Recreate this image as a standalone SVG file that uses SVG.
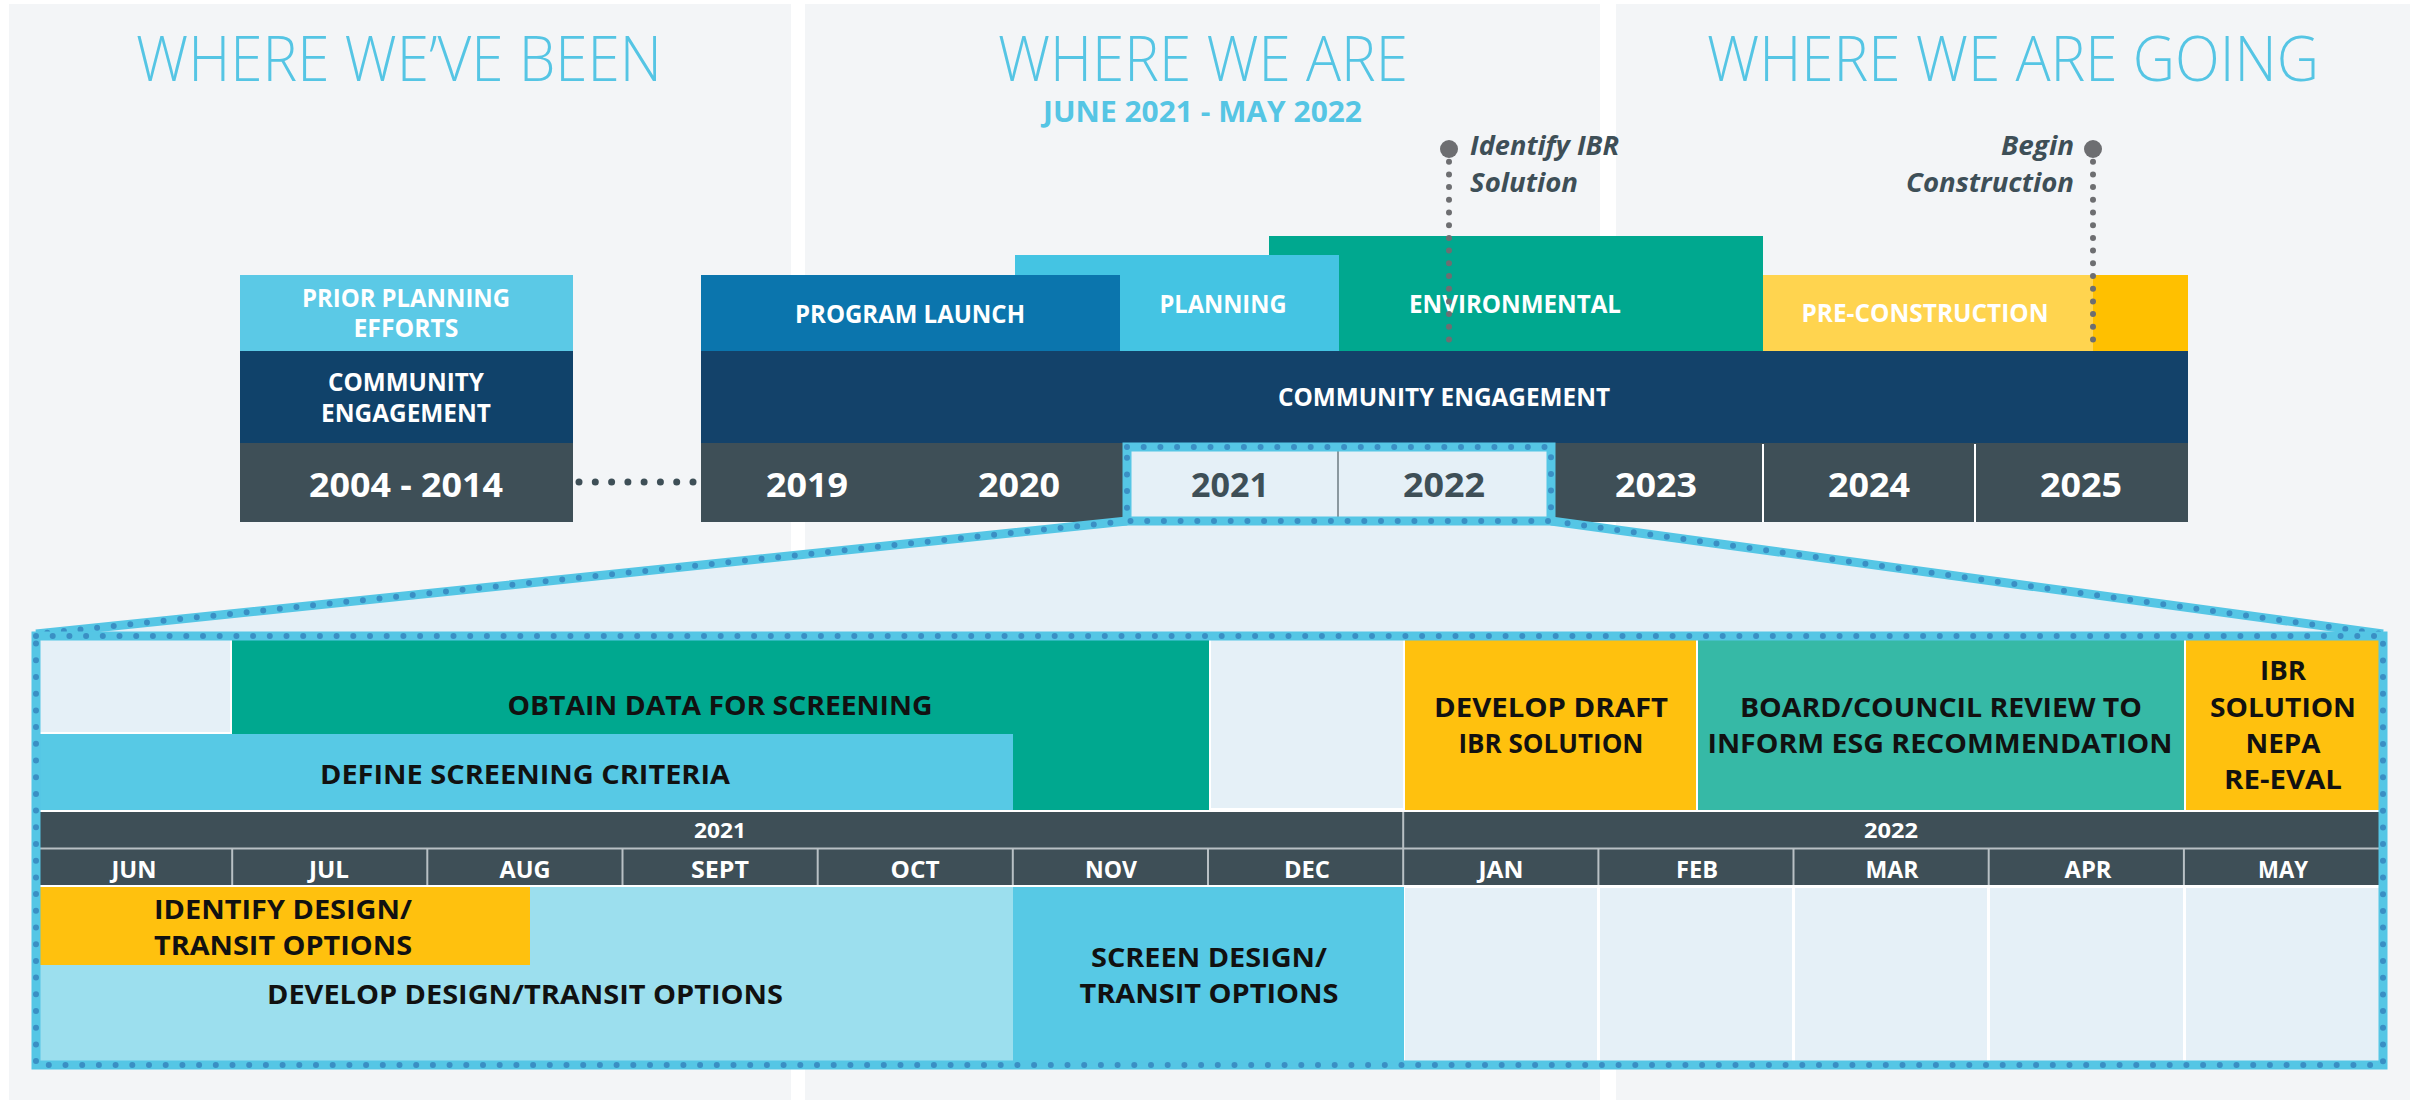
<svg xmlns="http://www.w3.org/2000/svg" width="2417" height="1104" viewBox="0 0 2417 1104">
<defs>
<style>
.panel{fill:#f3f5f7}
.title{font-family:"Open Sans","Lato","Liberation Sans",sans-serif;font-weight:300;fill:#55c5e4;font-size:62px;text-anchor:middle}
.b{font-family:"Open Sans","Liberation Sans",Arial,sans-serif;font-weight:700;text-anchor:middle}
.w{fill:#ffffff}
.k{fill:#111111}
.g{fill:#3e4f57}
.lbl{font-size:24.5px}
.yr{font-size:34px}
.act{font-size:26px}
.mon{font-size:24px}
.it{font-family:"Open Sans","Liberation Sans",Arial,sans-serif;font-weight:700;font-style:italic;font-size:27px;fill:#3e4f57}
.light{fill:#e5f0f7}
.band{fill:none;stroke:#55c6e5;stroke-width:9}
.dots{fill:none;stroke:#3a8fc4;stroke-width:6;stroke-linecap:round;stroke-dasharray:0 16.7}
.mk{fill:none;stroke:#6d6e71;stroke-width:6;stroke-linecap:round;stroke-dasharray:0 12.7}
.grid{stroke:#b8c0c4;stroke-width:2}
</style>
</defs>

<g id="panels">
<rect class="panel" x="9" y="4" width="782" height="1096"/>
<rect class="panel" x="805" y="4" width="795" height="1096"/>
<rect class="panel" x="1616" y="4" width="794" height="1096"/>
</g>

<g id="titles">
<text class="title" x="399" y="81" textLength="526" lengthAdjust="spacingAndGlyphs">WHERE WE’VE BEEN</text>
<text class="title" x="1203" y="81" textLength="410" lengthAdjust="spacingAndGlyphs">WHERE WE ARE</text>
<text class="b" x="1202.5" y="122" font-size="29" fill="#55c5e4" textLength="319" lengthAdjust="spacingAndGlyphs">JUNE 2021 - MAY 2022</text>
<text class="title" x="2013" y="81" textLength="612" lengthAdjust="spacingAndGlyphs">WHERE WE ARE GOING</text>
</g>

<!-- Left column -->
<g id="prior-planning">
<rect x="240" y="275" width="333" height="76" fill="#5bc9e6"/>
<text class="b w lbl" x="406" y="307" textLength="208" lengthAdjust="spacingAndGlyphs">PRIOR PLANNING</text>
<text class="b w lbl" x="406" y="337" textLength="105" lengthAdjust="spacingAndGlyphs">EFFORTS</text>
</g>
<g id="community-engagement-past">
<rect x="240" y="351" width="333" height="92" fill="#10426a"/>
<text class="b w lbl" x="406" y="391" textLength="156" lengthAdjust="spacingAndGlyphs">COMMUNITY</text>
<text class="b w lbl" x="406" y="422" textLength="170" lengthAdjust="spacingAndGlyphs">ENGAGEMENT</text>
</g>
<g id="years-2004-2014">
<rect x="240" y="443" width="333" height="79" fill="#3e4f57"/>
<text class="b w yr" x="406" y="497" textLength="194" lengthAdjust="spacingAndGlyphs">2004 - 2014</text>
</g>

<!-- Main top chart -->
<g id="environmental">
<rect x="1269" y="236" width="494" height="115" fill="#00a88f"/>
</g>
<g id="planning">
<rect x="1015" y="255" width="324" height="96" fill="#44c4e3"/>
</g>
<g id="program-launch">
<rect x="701" y="275" width="419" height="76" fill="#0b75ad"/>
<text class="b w lbl" x="910" y="323" textLength="230" lengthAdjust="spacingAndGlyphs">PROGRAM LAUNCH</text>
</g>
<text class="b w lbl" x="1223" y="313" textLength="127" lengthAdjust="spacingAndGlyphs">PLANNING</text>
<text class="b w lbl" x="1515" y="313" textLength="212" lengthAdjust="spacingAndGlyphs">ENVIRONMENTAL</text>
<g id="pre-construction">
<rect x="1763" y="275" width="425" height="76" fill="#ffd44f"/>
<rect x="2093" y="275" width="95" height="76" fill="#ffc000"/>
<text class="b w lbl" x="1925" y="322" textLength="247" lengthAdjust="spacingAndGlyphs">PRE-CONSTRUCTION</text>
</g>
<g id="community-engagement">
<rect x="701" y="351" width="1487" height="92" fill="#13426a"/>
<text class="b w lbl" x="1444" y="406" textLength="332" lengthAdjust="spacingAndGlyphs">COMMUNITY ENGAGEMENT</text>
</g>
<g id="year-row">
<rect x="701" y="443" width="1487" height="79" fill="#3e4f57"/>
<line x1="1763" y1="444" x2="1763" y2="522" stroke="#ffffff" stroke-width="2"/>
<line x1="1975" y1="444" x2="1975" y2="522" stroke="#ffffff" stroke-width="2"/>
<text class="b w yr" x="807" y="497" textLength="82" lengthAdjust="spacingAndGlyphs">2019</text>
<text class="b w yr" x="1019" y="497" textLength="82" lengthAdjust="spacingAndGlyphs">2020</text>
<text class="b w yr" x="1656" y="497" textLength="82" lengthAdjust="spacingAndGlyphs">2023</text>
<text class="b w yr" x="1869" y="497" textLength="82" lengthAdjust="spacingAndGlyphs">2024</text>
<text class="b w yr" x="2081" y="497" textLength="82" lengthAdjust="spacingAndGlyphs">2025</text>
</g>

<!-- Lower zoomed section -->
<g id="zoom-area">
<polygon class="light" points="1127,521 1551,521 2383,636 36,636"/>
<rect x="40" y="640" width="2339" height="421" fill="#ffffff"/>
</g>

<g id="highlight-2021-2022">
<rect class="light" x="1127" y="447" width="424" height="74"/>
<line x1="1338" y1="451" x2="1338" y2="517" stroke="#6d7b82" stroke-width="1.5"/>
<text class="b g yr" x="1230" y="497" textLength="78" lengthAdjust="spacingAndGlyphs">2021</text>
<text class="b g yr" x="1444" y="497" textLength="82" lengthAdjust="spacingAndGlyphs">2022</text>
</g>

<g id="obtain-data">
<rect x="232" y="640" width="977" height="170" fill="#00a88f"/>
<text class="b k act" x="720" y="715" textLength="425" lengthAdjust="spacingAndGlyphs">OBTAIN DATA FOR SCREENING</text>
</g>
<g id="jun-empty"><rect class="light" x="40" y="640" width="190" height="92"/></g>
<g id="define-criteria">
<rect x="40" y="734" width="973" height="76" fill="#57c9e5"/>
<text class="b k act" x="525" y="784" textLength="410" lengthAdjust="spacingAndGlyphs">DEFINE SCREENING CRITERIA</text>
</g>
<g id="dec-empty"><rect class="light" x="1211" y="640" width="192" height="168"/></g>
<g id="develop-draft">
<rect x="1405" y="640" width="291" height="170" fill="#ffc10e"/>
<text class="b k act" x="1551" y="717" textLength="234" lengthAdjust="spacingAndGlyphs">DEVELOP DRAFT</text>
<text class="b k act" x="1551" y="753" textLength="185" lengthAdjust="spacingAndGlyphs">IBR SOLUTION</text>
</g>
<g id="board-review">
<rect x="1698" y="640" width="486" height="170" fill="#36b9a6"/>
<text class="b k act" x="1941" y="717" textLength="402" lengthAdjust="spacingAndGlyphs">BOARD/COUNCIL REVIEW TO</text>
<text class="b k act" x="1940" y="753" textLength="465" lengthAdjust="spacingAndGlyphs">INFORM ESG RECOMMENDATION</text>
</g>
<g id="ibr-nepa">
<rect x="2186" y="640" width="193" height="170" fill="#ffc10e"/>
<text class="b k act" x="2283" y="680" textLength="46" lengthAdjust="spacingAndGlyphs">IBR</text>
<text class="b k act" x="2283" y="717" textLength="146" lengthAdjust="spacingAndGlyphs">SOLUTION</text>
<text class="b k act" x="2283" y="753" textLength="75" lengthAdjust="spacingAndGlyphs">NEPA</text>
<text class="b k act" x="2283" y="789" textLength="118" lengthAdjust="spacingAndGlyphs">RE-EVAL</text>
</g>

<g id="month-header">
<rect x="40" y="812" width="2339" height="73" fill="#3e4f57"/>
<line class="grid" x1="40" y1="848.5" x2="2379" y2="848.5"/>
<line class="grid" x1="1403.2" y1="812" x2="1403.2" y2="885"/>
<g class="grid">
<line x1="232.2" y1="849" x2="232.2" y2="885"/>
<line x1="427.3" y1="849" x2="427.3" y2="885"/>
<line x1="622.5" y1="849" x2="622.5" y2="885"/>
<line x1="817.7" y1="849" x2="817.7" y2="885"/>
<line x1="1012.8" y1="849" x2="1012.8" y2="885"/>
<line x1="1208" y1="849" x2="1208" y2="885"/>
<line x1="1598.4" y1="849" x2="1598.4" y2="885"/>
<line x1="1793.5" y1="849" x2="1793.5" y2="885"/>
<line x1="1988.7" y1="849" x2="1988.7" y2="885"/>
<line x1="2183.9" y1="849" x2="2183.9" y2="885"/>
</g>
<text class="b w" font-size="22" x="720" y="838" textLength="52" lengthAdjust="spacingAndGlyphs">2021</text>
<text class="b w" font-size="22" x="1891" y="838" textLength="54" lengthAdjust="spacingAndGlyphs">2022</text>
<text class="b w mon" x="134" y="878" textLength="45" lengthAdjust="spacingAndGlyphs">JUN</text>
<text class="b w mon" x="329" y="878" textLength="40" lengthAdjust="spacingAndGlyphs">JUL</text>
<text class="b w mon" x="525" y="878" textLength="51" lengthAdjust="spacingAndGlyphs">AUG</text>
<text class="b w mon" x="720" y="878" textLength="58" lengthAdjust="spacingAndGlyphs">SEPT</text>
<text class="b w mon" x="915" y="878" textLength="49" lengthAdjust="spacingAndGlyphs">OCT</text>
<text class="b w mon" x="1111" y="878" textLength="52" lengthAdjust="spacingAndGlyphs">NOV</text>
<text class="b w mon" x="1307" y="878" textLength="46" lengthAdjust="spacingAndGlyphs">DEC</text>
<text class="b w mon" x="1501" y="878" textLength="45" lengthAdjust="spacingAndGlyphs">JAN</text>
<text class="b w mon" x="1697" y="878" textLength="42" lengthAdjust="spacingAndGlyphs">FEB</text>
<text class="b w mon" x="1892" y="878" textLength="53" lengthAdjust="spacingAndGlyphs">MAR</text>
<text class="b w mon" x="2088" y="878" textLength="47" lengthAdjust="spacingAndGlyphs">APR</text>
<text class="b w mon" x="2283" y="878" textLength="50" lengthAdjust="spacingAndGlyphs">MAY</text>
</g>

<g id="develop-design">
<rect x="40" y="887" width="973" height="174" fill="#9cdfee"/>
<text class="b k act" x="525" y="1004" textLength="516" lengthAdjust="spacingAndGlyphs">DEVELOP DESIGN/TRANSIT OPTIONS</text>
</g>
<g id="identify-design">
<rect x="40" y="887" width="490" height="78" fill="#ffc10e"/>
<text class="b k act" x="283" y="919" textLength="258" lengthAdjust="spacingAndGlyphs">IDENTIFY DESIGN/</text>
<text class="b k act" x="283" y="955" textLength="258" lengthAdjust="spacingAndGlyphs">TRANSIT OPTIONS</text>
</g>
<g id="screen-design">
<rect x="1013" y="887" width="391" height="174" fill="#57c9e5"/>
<text class="b k act" x="1209" y="967" textLength="236" lengthAdjust="spacingAndGlyphs">SCREEN DESIGN/</text>
<text class="b k act" x="1209" y="1003" textLength="259" lengthAdjust="spacingAndGlyphs">TRANSIT OPTIONS</text>
</g>
<g id="empty-2022">
<rect class="light" x="1405" y="888" width="192" height="173"/>
<rect class="light" x="1600" y="888" width="192" height="173"/>
<rect class="light" x="1795" y="888" width="192" height="173"/>
<rect class="light" x="1990" y="888" width="193" height="173"/>
<rect class="light" x="2186" y="888" width="193" height="173"/>
</g>

<g id="connectors">
<g id="zoom-borders">
<path class="band" d="M1127,521 L36,634 M1551,521 L2383,634"/>
<path class="dots" d="M1127,521 L36,634 M1551,521 L2383,634"/>
<path class="band" d="M36,636 H2383 V1065 H36 Z"/>
<path class="dots" d="M36,636 H2383 V1065 H36 Z"/>
<path class="band" d="M1127,447 H1551 V521 H1127 Z"/>
<path class="dots" d="M1127,447 H1551 V521 H1127 Z"/>
</g>
<g id="gap-dots" fill="#3e4f57">
<circle cx="579" cy="482" r="3.5"/>
<circle cx="595.3" cy="482" r="3.5"/>
<circle cx="611.6" cy="482" r="3.5"/>
<circle cx="627.9" cy="482" r="3.5"/>
<circle cx="644.1" cy="482" r="3.5"/>
<circle cx="660.4" cy="482" r="3.5"/>
<circle cx="676.7" cy="482" r="3.5"/>
<circle cx="693" cy="482" r="3.5"/>
</g>
<g id="marker-identify">
<line class="mk" x1="1449" y1="161.7" x2="1449" y2="350"/>
<circle cx="1449" cy="149" r="9" fill="#6d6e71"/>
</g>
<g id="marker-construction">
<line class="mk" x1="2093" y1="161.7" x2="2093" y2="350"/>
<circle cx="2093" cy="149" r="9" fill="#6d6e71"/>
</g>
</g>

<g id="milestone-identify">
<text class="it" x="1470" y="155" textLength="149" lengthAdjust="spacingAndGlyphs">Identify IBR</text>
<text class="it" x="1470" y="192" textLength="108" lengthAdjust="spacingAndGlyphs">Solution</text>
</g>
<g id="milestone-construction">
<text class="it" x="2074" y="155" text-anchor="end" textLength="73" lengthAdjust="spacingAndGlyphs">Begin</text>
<text class="it" x="2074" y="192" text-anchor="end" textLength="168" lengthAdjust="spacingAndGlyphs">Construction</text>
</g>
</svg>
